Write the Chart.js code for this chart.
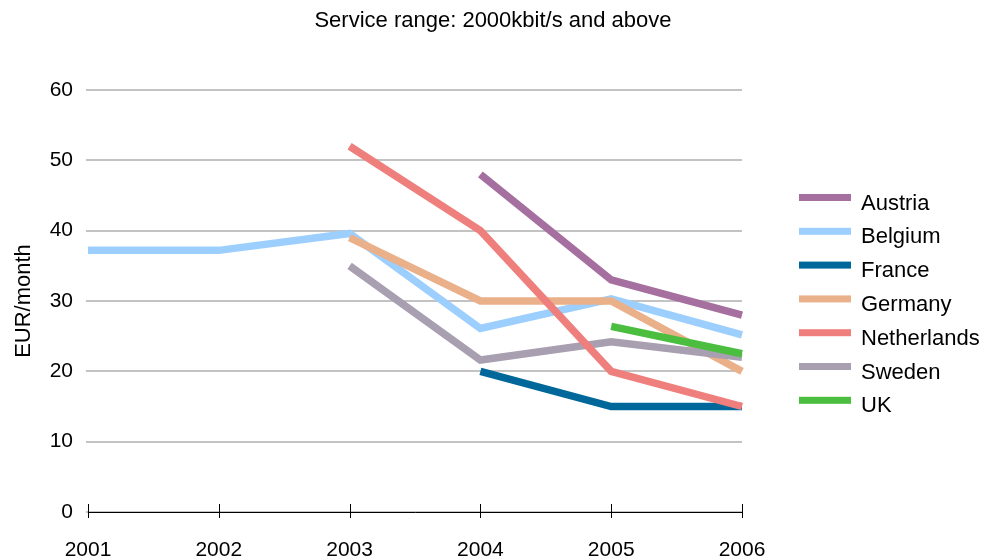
<!DOCTYPE html>
<html>
<head>
<meta charset="utf-8">
<script src="https://cdn.jsdelivr.net/npm/chart.js@4"></script>
<style>
  html, body { margin: 0; padding: 0; background: #ffffff; }
  #wrap { width: 986px; height: 556px; position: relative; }
</style>
</head>
<body>
<div id="wrap"><canvas id="c"></canvas></div>
<script>
// Monthly price (EUR) for 2000kbit/s-and-above broadband, by country
const years = ['2001', '2002', '2003', '2004', '2005', '2006'];
const countries = ['Austria', 'Belgium', 'France', 'Germany', 'Netherlands', 'Sweden', 'UK'];
const austria     = [null, null, null, 48, 33, 28];
const belgium     = [37.2, 37.2, 39.6, 26.1, 30.3, 25.2];
const france      = [null, null, null, 20, 15, 15];
const germany     = [null, null, 39, 30, 30, 20];
const netherlands = [null, null, 52, 40, 20, 15];
const sweden      = [null, null, 35, 21.6, 24.2, 22];
const uk          = [null, null, null, null, 26.4, 22.5];
const yTicks = [0, 10, 20, 30, 40, 50, 60];
const titleText = 'Service range: 2000kbit/s and above';

const seriesValues = [austria, belgium, france, germany, netherlands, sweden, uk];
const colors = ['#a5709f', '#9ccffe', '#00679b', '#eab08a', '#ef7f7c', '#a89fb1', '#4bbe40'];
// stacking: lower order is painted later (on top)
const drawOrder = [6, 5, 4, 3, 0, 2, 1];

const FONT = "'Liberation Sans', Arial, Helvetica, sans-serif";

const datasets = countries.map((name, i) => ({
  label: name,
  data: seriesValues[i],
  borderColor: colors[i],
  backgroundColor: colors[i],
  borderWidth: 7.5,
  borderCapStyle: 'butt',
  borderJoinStyle: 'miter',
  pointRadius: 0,
  pointHoverRadius: 0,
  tension: 0,
  spanGaps: false,
  fill: false,
  order: drawOrder[i]
}));

// Tick marks crossing the category axis
const crossTicks = {
  id: 'crossTicks',
  afterDraw(chart) {
    const x = chart.scales.x;
    const ctx = chart.ctx;
    ctx.save();
    ctx.strokeStyle = '#000000';
    ctx.lineWidth = 1;
    ctx.beginPath();
    for (let i = 0; i < x.ticks.length; i++) {
      const px = Math.round(x.getPixelForTick(i)) + 0.5;
      ctx.moveTo(px, x.top - 8);
      ctx.lineTo(px, x.top + 6);
    }
    ctx.stroke();
    ctx.restore();
  }
};

// Title centred across the whole canvas
const pageTitle = {
  id: 'pageTitle',
  afterDraw(chart, args, opts) {
    const ctx = chart.ctx;
    ctx.save();
    ctx.font = opts.fontSize + 'px ' + FONT;
    ctx.fillStyle = '#000000';
    ctx.textAlign = 'center';
    ctx.textBaseline = 'middle';
    ctx.fillText(opts.text, chart.width / 2, opts.y);
    ctx.restore();
  }
};

// Line-swatch legend at the right
const sideLegend = {
  id: 'sideLegend',
  afterDraw(chart, args, opts) {
    const ctx = chart.ctx;
    ctx.save();
    ctx.font = opts.fontSize + 'px ' + FONT;
    ctx.textBaseline = 'middle';
    ctx.textAlign = 'left';
    chart.data.datasets.forEach((ds, i) => {
      const y = opts.top + i * opts.step;
      ctx.fillStyle = ds.borderColor;
      ctx.fillRect(opts.left, y - 3.5, opts.swatch, 7);
      ctx.fillStyle = '#000000';
      ctx.fillText(ds.label, opts.textX, y + 6);
    });
    ctx.restore();
  }
};

new Chart(document.getElementById('c'), {
  type: 'line',
  data: { labels: years, datasets: datasets },
  plugins: [crossTicks, pageTitle, sideLegend],
  options: {
    responsive: true,
    maintainAspectRatio: false,
    animation: false,
    events: [],
    layout: { padding: { left: 0, right: 244, top: 90, bottom: 0 } },
    plugins: {
      legend: { display: false },
      tooltip: { enabled: false },
      title: { display: false },
      pageTitle: { text: titleText, y: 21, fontSize: 22 },
      sideLegend: { left: 799, swatch: 52, textX: 861, top: 197.5, step: 33.8, fontSize: 22 }
    },
    scales: {
      x: {
        type: 'category',
        offset: false,
        grid: { display: true, drawOnChartArea: false, drawTicks: false },
        border: { display: true, color: '#000000', width: 1 },
        ticks: {
          color: '#000000',
          font: { family: FONT, size: 21 },
          padding: 26,
          maxRotation: 0,
          autoSkip: false
        },
        afterFit(scale) { scale.height = 44; }
      },
      y: {
        min: yTicks[0],
        max: yTicks[yTicks.length - 1],
        afterBuildTicks(scale) { scale.ticks = yTicks.map(v => ({ value: v })); },
        grid: { color: '#c3c3c3', lineWidth: 2, drawTicks: true, tickLength: 2, tickColor: '#c3c3c3' },
        border: { display: false },
        ticks: {
          color: '#000000',
          font: { family: FONT, size: 21 },
          padding: 13
        },
        title: {
          display: true,
          text: 'EUR/month',
          color: '#000000',
          font: { family: FONT, size: 22 },
          padding: { top: 11, bottom: 0 }
        },
        afterFit(scale) { scale.width = 88; }
      }
    }
  }
});
</script>
</body>
</html>
